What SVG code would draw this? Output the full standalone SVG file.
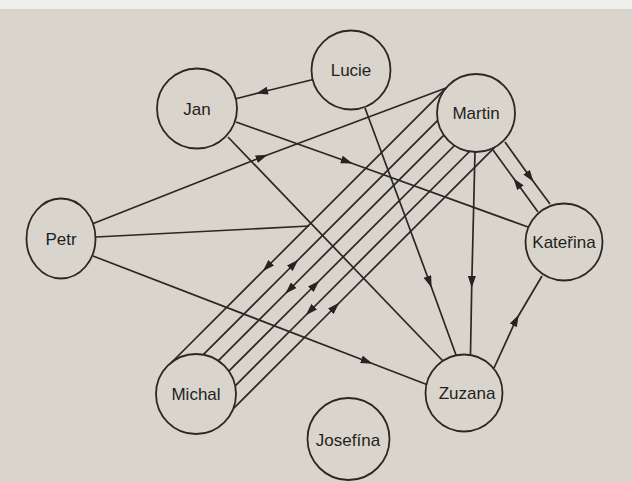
<svg xmlns="http://www.w3.org/2000/svg" width="632" height="482" viewBox="0 0 632 482">
<defs>
<marker id="ah" markerUnits="userSpaceOnUse" markerWidth="12" markerHeight="8" refX="6" refY="4" orient="auto">
<path d="M0,0 L12,4 L0,8 z" fill="#262320"/>
</marker>
</defs>
<style>
.n{fill:#d9d5cd;stroke:#2a2724;stroke-width:1.8}
.e{fill:none;stroke:#2a2724;stroke-width:1.7}
.a{marker-mid:url(#ah)}
text{font-family:"Liberation Sans",Arial,sans-serif;font-size:17px;fill:#221f1c;text-anchor:middle}
</style>
<rect x="0" y="0" width="632" height="482" fill="#d9d5cd"/>
<rect x="0" y="0" width="632" height="9" fill="#efeeeb"/>
<g id="connectors">
<path class="e a" d="M313.2,79.5 L262,92 L235.8,98.8"/>
<path class="e a" d="M92,224 L262,157 L446,88"/>
<path class="e" d="M96,237 L309,226"/>
<path class="e a" d="M93,256 L367,361.5 L428,385"/>
<path class="e a" d="M236,122 L347,161.5 L528,227"/>
<path class="e" d="M228,137 L443,361"/>
<path class="e a" d="M365,108 L429.5,282 L456,355"/>
<path class="e a" d="M475,152 L471.8,282 L470.5,354"/>
<path class="e a" d="M505,142 L530,177 L550,204"/>
<path class="e a" d="M538,212 L517,183 L493,150"/>
<path class="e a" d="M494,368 L516,320 L542,276"/>
<path class="e a" d="M446.4,87.6 L267,267 L172,362"/>
<path class="e a" d="M203.3,354.7 L294,264 L437.7,120.3"/>
<path class="e a" d="M443.9,135.1 L289.5,289.5 L218.2,360.8"/>
<path class="e a" d="M228.8,371.2 L315,285 L454.5,145.5"/>
<path class="e a" d="M469.5,151.5 L310,311 L235.2,385.8"/>
<path class="e a" d="M233.1,408.9 L335,307 L494.9,147.1"/>
</g>
<g id="lucie"><circle class="n" cx="351" cy="70" r="39.5"/><text x="351" y="76">Lucie</text></g>
<g id="jan"><circle class="n" cx="197" cy="108.5" r="40"/><text x="197" y="114.5">Jan</text></g>
<g id="martin"><circle class="n" cx="476" cy="113" r="39"/><text x="476" y="119">Martin</text></g>
<g id="katerina"><circle class="n" cx="564" cy="242" r="38.5"/><text x="564" y="248">Kateřina</text></g>
<g id="petr"><ellipse class="n" cx="61" cy="238.5" rx="34.5" ry="40"/><text x="61" y="245">Petr</text></g>
<g id="michal"><circle class="n" cx="196" cy="394" r="40"/><text x="196" y="400">Michal</text></g>
<g id="zuzana"><circle class="n" cx="464" cy="393" r="38.5"/><text x="467" y="399">Zuzana</text></g>
<g id="josefina"><circle class="n" cx="348.5" cy="439" r="41"/><text x="348" y="446">Josefína</text></g>
</svg>
